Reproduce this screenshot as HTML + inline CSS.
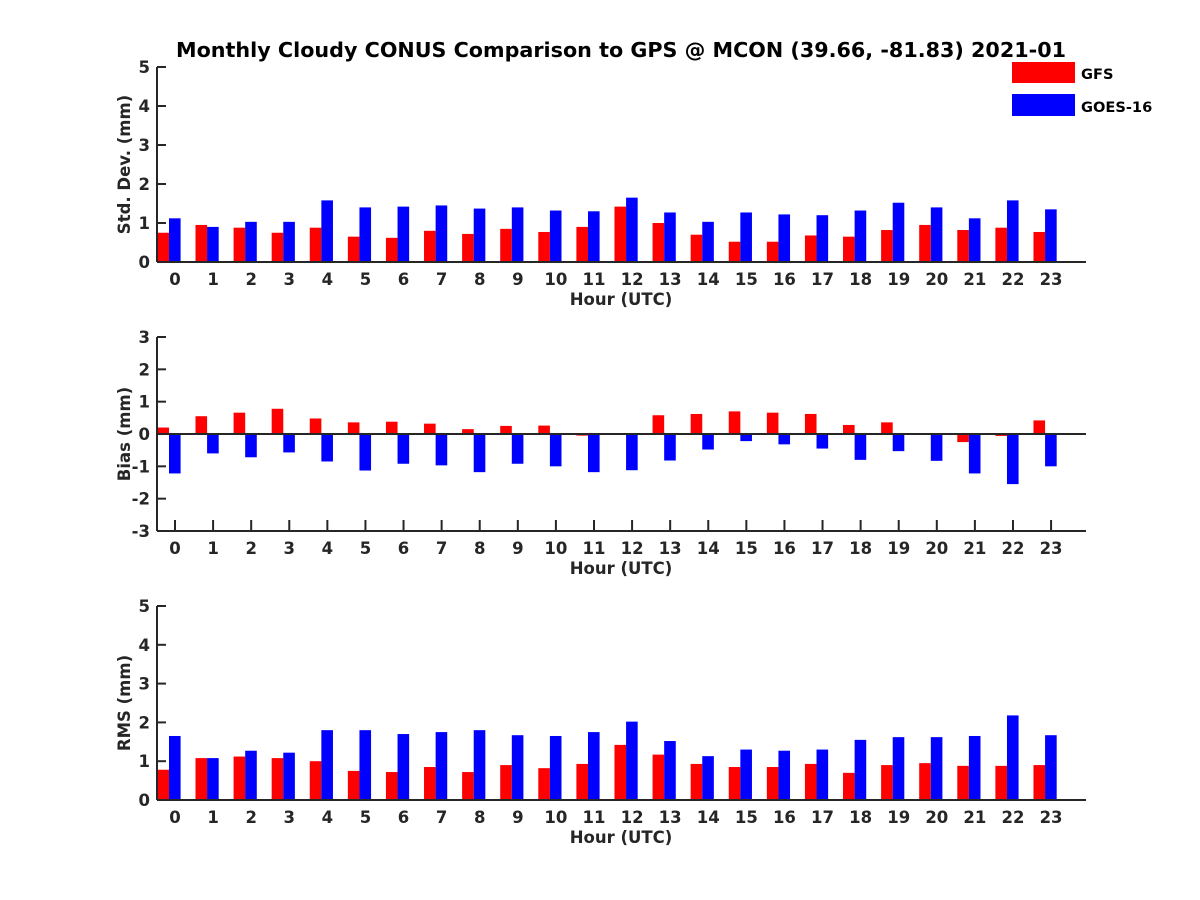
<!DOCTYPE html>
<html><head><meta charset="utf-8"><style>
body{margin:0;background:#fff}
svg{display:block;font-family:"DejaVu Sans","Liberation Sans",sans-serif;font-weight:bold}
</style></head><body>
<svg id="chart" width="1200" height="900" viewBox="0 0 1200 900">
<rect width="1200" height="900" fill="#fff"/>
<text x="621" y="57" text-anchor="middle" font-size="20.7" fill="#000">Monthly Cloudy CONUS Comparison to GPS @ MCON (39.66, -81.83) 2021-01</text>
<g>
<rect x="1012" y="62" width="63" height="21" fill="#ff0000"/>
<text x="1081" y="79" font-size="14.6" fill="#000">GFS</text>
<rect x="1012" y="94" width="63" height="22" fill="#0000ff"/>
<text x="1081" y="112" font-size="14.6" fill="#000">GOES-16</text>
</g>
</svg>
<script>
const hours = [0,1,2,3,4,5,6,7,8,9,10,11,12,13,14,15,16,17,18,19,20,21,22,23];
const stdGFS = [0.75,0.95,0.88,0.75,0.88,0.65,0.62,0.8,0.72,0.85,0.77,0.9,1.42,1.0,0.7,0.52,0.52,0.68,0.65,0.82,0.95,0.82,0.88,0.77];
const stdGOES = [1.12,0.9,1.03,1.03,1.58,1.4,1.42,1.45,1.37,1.4,1.32,1.3,1.65,1.27,1.03,1.27,1.22,1.2,1.32,1.52,1.4,1.12,1.58,1.35];
const biasGFS = [0.2,0.55,0.66,0.78,0.48,0.36,0.38,0.32,0.15,0.25,0.26,-0.05,0.03,0.58,0.62,0.7,0.66,0.62,0.28,0.36,0,-0.25,-0.06,0.42];
const biasGOES = [-1.22,-0.6,-0.72,-0.57,-0.85,-1.13,-0.92,-0.97,-1.18,-0.92,-1.0,-1.18,-1.12,-0.82,-0.48,-0.22,-0.32,-0.45,-0.8,-0.53,-0.83,-1.22,-1.55,-1.0];
const rmsGFS = [0.78,1.08,1.12,1.08,1.0,0.75,0.72,0.85,0.72,0.9,0.82,0.93,1.42,1.17,0.93,0.85,0.85,0.93,0.7,0.9,0.95,0.88,0.88,0.9];
const rmsGOES = [1.65,1.08,1.27,1.22,1.8,1.8,1.7,1.75,1.8,1.67,1.65,1.75,2.02,1.52,1.13,1.3,1.27,1.3,1.55,1.62,1.62,1.65,2.18,1.67];
const stdTicks = [0,1,2,3,4,5];
const biasTicks = [-3,-2,-1,0,1,2,3];
const rmsTicks = [0,1,2,3,4,5];

const NS = 'http://www.w3.org/2000/svg';
const svg = document.getElementById('chart');
function mk(tag, attrs, parent){const e=document.createElementNS(NS,tag);for(const k in attrs)e.setAttribute(k,attrs[k]);(parent||svg).appendChild(e);return e;}
const X0 = 157, X1 = 1086;
function xc(i){return 169 + 38.09*i;}
const BW = 11.6;
const FS = 16.5;

function panel(opt){
  const g = mk('g',{});
  
  
  const y = v => opt.yBot + (v - opt.ymin) * (opt.yTop - opt.yBot) / (opt.ymax - opt.ymin);
  hours.forEach((h,i)=>{
    const v1 = opt.a[i], v2 = opt.b[i];
    const r = mk('rect',{x:xc(i)-BW,y:Math.min(y(0),y(v1)),width:BW,height:Math.abs(y(v1)-y(0)),fill:'#ff0000'},g);
    
    
    const b = mk('rect',{x:xc(i),y:Math.min(y(0),y(v2)),width:BW,height:Math.abs(y(v2)-y(0)),fill:'#0000ff'},g);
    
    
  });
  const ya = mk('line',{x1:X0,x2:X0,y1:opt.yTop,y2:opt.yBot,stroke:'#262626','stroke-width':2},g);
  
  
  const xa = mk('line',{x1:X0,x2:X1,y1:opt.yBot,y2:opt.yBot,stroke:'#262626','stroke-width':2},g);
  
  
  if(opt.zeroLine){
    const z = mk('line',{x1:X0,x2:X1,y1:y(0),y2:y(0),stroke:'#262626','stroke-width':2},g);
    
    
  }
  opt.ticks.forEach(t=>{
    mk('line',{x1:X0,x2:X0+9,y1:y(t),y2:y(t),stroke:'#262626','stroke-width':2},g);
    const tl = mk('text',{x:X0-7,y:y(t)+6,'text-anchor':'end','font-size':FS,fill:'#262626'},g);
    tl.textContent = t;
    
    
  });
  hours.forEach((h,i)=>{
    if(opt.xTicks) mk('line',{x1:xc(i)+6,x2:xc(i)+6,y1:opt.yBot,y2:opt.yBot-11,stroke:'#262626','stroke-width':2},g);
    const t = mk('text',{x:xc(i)+6,y:opt.yBot+23,'text-anchor':'middle','font-size':FS,fill:'#262626'},g);
    t.textContent = h;
    
    
  });
  const xt = mk('text',{x:621,y:opt.yBot+43,'text-anchor':'middle','font-size':FS,fill:'#262626'},g);
  xt.textContent = 'Hour (UTC)';
  
  
  const cy = (opt.yTop+opt.yBot)/2;
  const yt = mk('text',{x:0,y:0,'text-anchor':'middle','font-size':FS,fill:'#262626',transform:'translate(130,'+cy+') rotate(-90)'},g);
  yt.textContent = opt.ylabel;
  
  
}
panel({name:'std-dev-panel',a:stdGFS,b:stdGOES,ymin:0,ymax:5,yTop:67,yBot:262,ticks:stdTicks,ylabel:'Std. Dev. (mm)'});
panel({name:'bias-panel',a:biasGFS,b:biasGOES,ymin:-3,ymax:3,yTop:337,yBot:531,ticks:biasTicks,ylabel:'Bias (mm)',zeroLine:true,xTicks:true});
panel({name:'rms-panel',a:rmsGFS,b:rmsGOES,ymin:0,ymax:5,yTop:606,yBot:800,ticks:rmsTicks,ylabel:'RMS (mm)'});
</script>
</body></html>
